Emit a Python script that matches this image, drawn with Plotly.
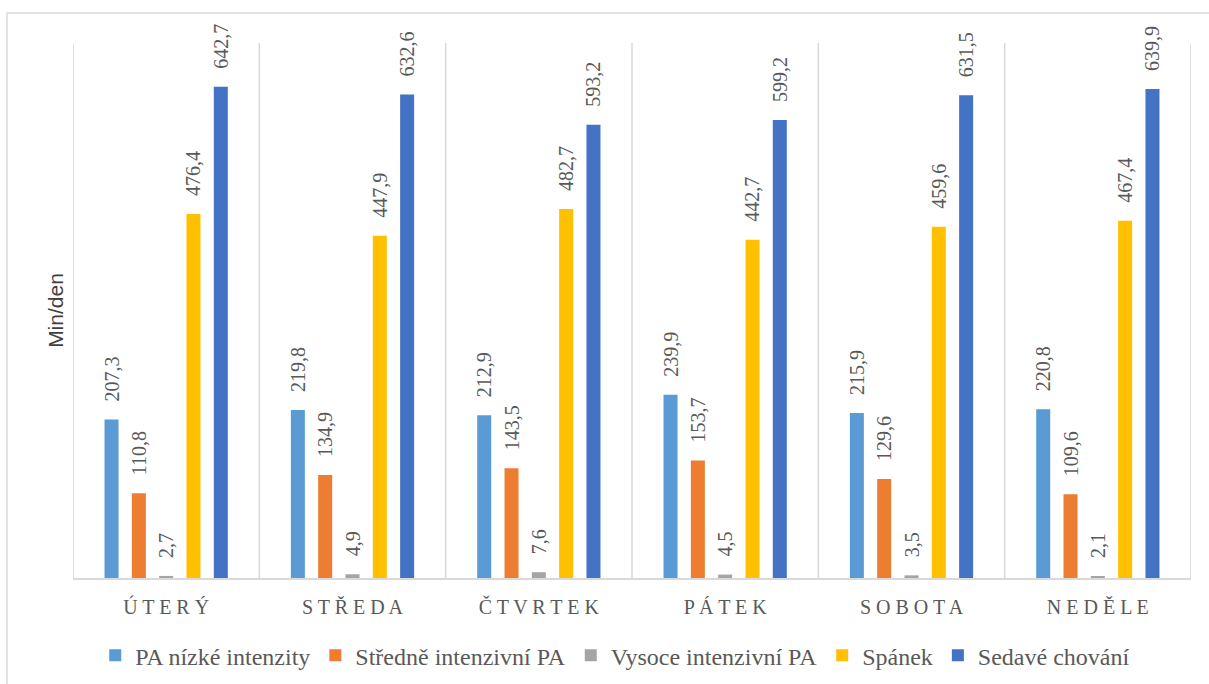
import plotly.graph_objects as go

# Days of the week (axis categories)
days = ["ÚTERÝ", "STŘEDA", "ČTVRTEK", "PÁTEK", "SOBOTA", "NEDĚLE"]

# Minutes per day for each activity type
pa_low = [207.3, 219.8, 212.9, 239.9, 215.9, 220.8]
pa_moderate = [110.8, 134.9, 143.5, 153.7, 129.6, 109.6]
pa_vigorous = [2.7, 4.9, 7.6, 4.5, 3.5, 2.1]
sleep = [476.4, 447.9, 482.7, 442.7, 459.6, 467.4]
sedentary = [642.7, 632.6, 593.2, 599.2, 631.5, 639.9]

series = [
    ("PA nízké intenzity", pa_low, "#5B9BD5"),
    ("Středně intenzivní PA", pa_moderate, "#ED7D31"),
    ("Vysoce intenzivní PA", pa_vigorous, "#A5A5A5"),
    ("Spánek", sleep, "#FFC000"),
    ("Sedavé chování", sedentary, "#4472C4"),
]

SERIF = "Liberation Serif"
GREY_TEXT = "#595959"
LINE = "#D9D9D9"
PAD = "\u00a0\u00a0\u00a0"  # keeps value labels clear of the bar tops


def cz(v):
    return PAD + f"{v:.1f}".replace(".", ",")


def spaced(s):
    return " ".join(s)


fig = go.Figure()
for name, vals, color in series:
    fig.add_trace(go.Bar(
        name=name,
        x=days,
        y=vals,
        marker=dict(color=color, line=dict(width=0)),
        text=[cz(v) for v in vals],
        textposition="outside",
        textangle=-90,
        constraintext="none",
        cliponaxis=False,
        textfont=dict(family=SERIF, size=20, color=GREY_TEXT),
    ))

shapes = []
# separators between day groups
for i in range(len(days) + 1):
    shapes.append(dict(
        type="line", xref="x", yref="paper",
        x0=i - 0.5, x1=i - 0.5, y0=0, y1=1,
        line=dict(color=LINE, width=1.5), layer="below",
    ))
# outer chart frame
shapes.append(dict(
    type="rect", xref="paper", yref="paper",
    x0=-0.059, x1=1.05, y0=-0.25, y1=1.056,
    line=dict(color=LINE, width=1.5), layer="below",
))

fig.update_layout(
    width=1209, height=684,
    margin=dict(l=73, r=18, t=43, b=106, autoexpand=False),
    plot_bgcolor="white", paper_bgcolor="white",
    barmode="group",
    bargap=0.267,
    bargroupgap=0.487,
    showlegend=True,
    legend=dict(
        orientation="h", x=0.485, xanchor="center", y=-0.103, yanchor="top",
        font=dict(family=SERIF, size=24, color=GREY_TEXT),
        itemwidth=30,
        traceorder="normal",
    ),
    shapes=shapes,
    xaxis=dict(
        tickmode="array",
        tickvals=days,
        ticktext=[spaced(d) for d in days],
        tickfont=dict(family=SERIF, size=20, color=GREY_TEXT),
        ticklabelstandoff=10,
        showgrid=False,
        showline=True, linecolor=LINE, linewidth=1.5,
        ticks="", ticklen=0,
        range=[-0.5, len(days) - 0.5],
        automargin=False,
    ),
    yaxis=dict(
        range=[0, 700],
        showgrid=False, showticklabels=False, zeroline=False,
        showline=False, ticks="",
        automargin=False,
        title=dict(text="Min/den", font=dict(family="Liberation Sans", size=21, color="#404040"), standoff=2),
    ),
)

fig.write_html("out.html")
